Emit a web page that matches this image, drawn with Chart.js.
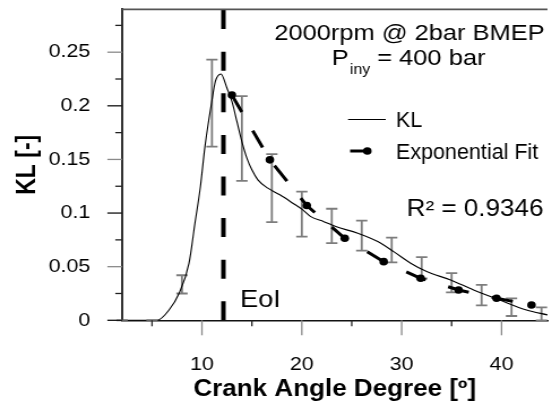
<!DOCTYPE html>
<html>
<head>
<meta charset="utf-8">
<script src="https://cdn.jsdelivr.net/npm/chart.js@4.4.0/dist/chart.umd.min.js"></script>
<style>
  html, body { margin: 0; padding: 0; background: #fff; }
</style>
</head>
<body>
<!-- the original figure is stretched sideways, so the canvas is too -->
<canvas id="myChart" width="488" height="408" style="display:block;width:552px;height:408px"></canvas>
<script>
// KL curve
const klAngle = [2, 5.5, 6.7, 7.7, 8.7, 9.3, 9.85, 10.3, 11.0, 11.35, 11.9, 12.5, 13.0, 13.5, 14.0, 14.5, 15.0, 15.6, 16.6, 17.8, 19.1, 20.1, 20.9, 22.2, 23.4, 25.6, 27.6, 29.2, 30.9, 32.5, 34.9, 37.2, 39.8, 42.5, 44.6];
const klValue = [0, 0, 0.0096, 0.025, 0.053, 0.0905, 0.125, 0.162, 0.205, 0.223, 0.2297, 0.2166, 0.2041, 0.1854, 0.1667, 0.1512, 0.1403, 0.131, 0.1232, 0.117, 0.1092, 0.103, 0.0967, 0.092, 0.0874, 0.0812, 0.0734, 0.064, 0.0532, 0.0454, 0.0376, 0.0283, 0.019, 0.0096, 0.005];

// exponential fit points
const fitAngle = [13.0, 16.8, 20.5, 24.3, 28.2, 31.9, 35.7, 39.5, 43.0];
const fitValue = [0.210, 0.1496, 0.107, 0.0765, 0.0547, 0.0392, 0.0283, 0.0205, 0.0143];

// error bars (low / high)
const errAngle = [2, 5, 8, 11, 14, 17, 20, 23, 26, 29, 32, 35, 38, 41, 44];
const errLow  = [0, 0, 0.025, 0.162, 0.130, 0.0915, 0.078, 0.072, 0.065, 0.054, 0.039, 0.026, 0.014, 0.004, 0];
const errHigh = [0, 0, 0.042, 0.243, 0.209, 0.155, 0.120, 0.104, 0.093, 0.077, 0.059, 0.044, 0.033, 0.0205, 0.012];

// end of injection
const eoiAngle = 12.15;

// axes
const xTicks = [10, 20, 30, 40];
const xMinor = [5, 15, 25, 35];
const yTicks = [0, 0.05, 0.1, 0.15, 0.2, 0.25];
const yTickLabels = ['0', '0.05', '0.1', '0.15', '0.2', '0.25'];
const yMinor = [0.025, 0.075, 0.125, 0.175, 0.225, 0.275];

const FONT = "'Liberation Sans', Arial, Helvetica, sans-serif";
Chart.defaults.font.family = FONT;
Chart.defaults.color = '#000';

function seg(ctx, x1, y1, x2, y2) {
    ctx.beginPath();
    ctx.moveTo(x1, y1);
    ctx.lineTo(x2, y2);
    ctx.stroke();
}

// legend text in the figure is a narrower face
function narrowText(ctx, text, x, y, sx) {
    ctx.save();
    ctx.translate(x, y);
    ctx.scale(sx, 1);
    ctx.fillText(text, 0, 0);
    ctx.restore();
}

// chart.js reserves room for the end labels, the figure does not
function noEdgePadding(s) {
    s.paddingTop = 0;
    s.paddingBottom = 0;
    s.paddingLeft = 0;
    s.paddingRight = 0;
}

const overlay = {
    id: 'overlay',
    beforeDatasetsDraw(chart) {
        const { ctx, scales: { x, y } } = chart;
        ctx.save();
        ctx.strokeStyle = '#7d7d7d';
        ctx.lineWidth = 1.8;
        errAngle.forEach((a, i) => {
            const px = x.getPixelForValue(a);
            const lo = y.getPixelForValue(errLow[i]);
            const hi = y.getPixelForValue(errHigh[i]);
            ctx.beginPath();
            ctx.moveTo(px, lo); ctx.lineTo(px, hi);
            ctx.moveTo(px - 5, lo); ctx.lineTo(px + 5, lo);
            ctx.moveTo(px - 5, hi); ctx.lineTo(px + 5, hi);
            ctx.stroke();
        });
        ctx.restore();
    },
    afterDraw(chart) {
        const { ctx, chartArea: { left, right, top, bottom }, scales: { x, y } } = chart;
        ctx.save();

        // top frame line
        ctx.strokeStyle = '#555';
        ctx.lineWidth = 1.8;
        seg(ctx, left, top, right, top);

        // tick marks, outside
        ctx.lineWidth = 1.3;
        yTicks.forEach((v, i) => {
            const py = y.getPixelForValue(v);
            ctx.strokeStyle = i % 2 ? '#8a8a8a' : '#111';
            seg(ctx, left - 13, py, left, py);
        });
        ctx.strokeStyle = '#222';
        yMinor.forEach(v => {
            const py = y.getPixelForValue(v);
            seg(ctx, left - 6, py, left, py);
        });
        ctx.strokeStyle = '#8a8a8a';
        xTicks.forEach(v => {
            const px = x.getPixelForValue(v);
            seg(ctx, px, bottom, px, bottom + 15);
        });
        ctx.strokeStyle = '#222';
        xMinor.forEach(v => {
            const px = x.getPixelForValue(v);
            seg(ctx, px, bottom, px, bottom + 6);
        });

        // texts
        ctx.fillStyle = '#000';
        ctx.textBaseline = 'alphabetic';
        ctx.font = `22.5px ${FONT}`;
        ctx.textAlign = 'center';
        ctx.fillText('2000rpm @ 2bar BMEP', 362, 39.5);

        ctx.textAlign = 'left';
        let tx = 293.3;
        ctx.fillText('P', tx, 64.5);
        tx += ctx.measureText('P').width;
        ctx.font = `14px ${FONT}`;
        ctx.fillText('iny', tx + 1, 73.5);
        tx += ctx.measureText('iny').width + 1;
        ctx.font = `22.5px ${FONT}`;
        ctx.fillText(' = 400 bar', tx, 64.5);

        // legend
        ctx.strokeStyle = '#000';
        ctx.lineWidth = 1;
        seg(ctx, 307.7, 119.5, 341, 119.5);
        ctx.lineWidth = 3;
        seg(ctx, 309.5, 151, 324.5, 151);
        ctx.beginPath();
        ctx.arc(324.7, 151, 3.8, 0, Math.PI * 2);
        ctx.fill();
        ctx.font = `21.5px ${FONT}`;
        narrowText(ctx, 'KL', 350, 126.7, 0.885);
        narrowText(ctx, 'Exponential Fit', 350, 159.3, 0.885);

        ctx.font = `23px ${FONT}`;
        ctx.fillText('R² = 0.9346', 359.6, 216);

        ctx.font = `24px ${FONT}`;
        ctx.fillText('EoI', 212.2, 306.7);

        ctx.restore();
    }
};

new Chart(document.getElementById('myChart'), {
    type: 'line',
    data: {
        datasets: [
            {
                label: 'EoI',
                data: [{ x: eoiAngle, y: 0 }, { x: eoiAngle, y: 0.29 }],
                borderColor: '#000',
                borderWidth: 4,
                borderDash: [19, 22.6],
                pointRadius: 0,
            },
            {
                label: 'KL',
                data: klAngle.map((a, i) => ({ x: a, y: klValue[i] })),
                borderColor: '#000',
                borderWidth: 1.1,
                cubicInterpolationMode: 'monotone',
                pointRadius: 0,
            },
            {
                label: 'Exponential Fit',
                data: fitAngle.map((a, i) => ({ x: a, y: fitValue[i] })),
                borderColor: '#000',
                borderWidth: 3,
                borderDash: [19, 21],
                pointRadius: 3.8,
                pointBorderWidth: 0,
                pointBackgroundColor: '#000',
            },
        ]
    },
    options: {
        responsive: false,
        animation: false,
        layout: { padding: { top: 9.3, right: 0, left: 0, bottom: 0 } },
        scales: {
            x: {
                type: 'linear',
                min: 2,
                max: 44.6,
                afterBuildTicks: s => { s.ticks = xTicks.map(v => ({ value: v })); },
                afterFit: s => { s.height = 87.7; noEdgePadding(s); },
                ticks: { font: { size: 19, lineHeight: 1 }, padding: 35, maxRotation: 0, autoSkip: false },
                grid: { display: false, drawTicks: false },
                border: { display: true, color: '#111', width: 1.5 },
                title: {
                    display: true,
                    text: 'Crank Angle Degree [º]',
                    font: { size: 23, weight: 'bold', lineHeight: 1.2 },
                    padding: { top: 0, bottom: 5 },
                },
            },
            y: {
                min: 0,
                max: 0.29,
                afterBuildTicks: s => { s.ticks = yTicks.map(v => ({ value: v })); },
                afterFit: s => { s.width = 107.9; noEdgePadding(s); },
                ticks: { font: { size: 19 }, padding: 28, callback: (v, i) => yTickLabels[i] },
                grid: { display: false, drawTicks: false },
                border: { display: true, color: '#333', width: 2 },
                title: {
                    display: true,
                    text: 'KL [-]',
                    font: { size: 23, weight: 'bold', lineHeight: 1.2 },
                    padding: { top: 11, bottom: 0 },
                },
            },
        },
        plugins: {
            legend: { display: false },
            tooltip: { enabled: false },
        }
    },
    plugins: [overlay]
});
</script>
</body>
</html>
